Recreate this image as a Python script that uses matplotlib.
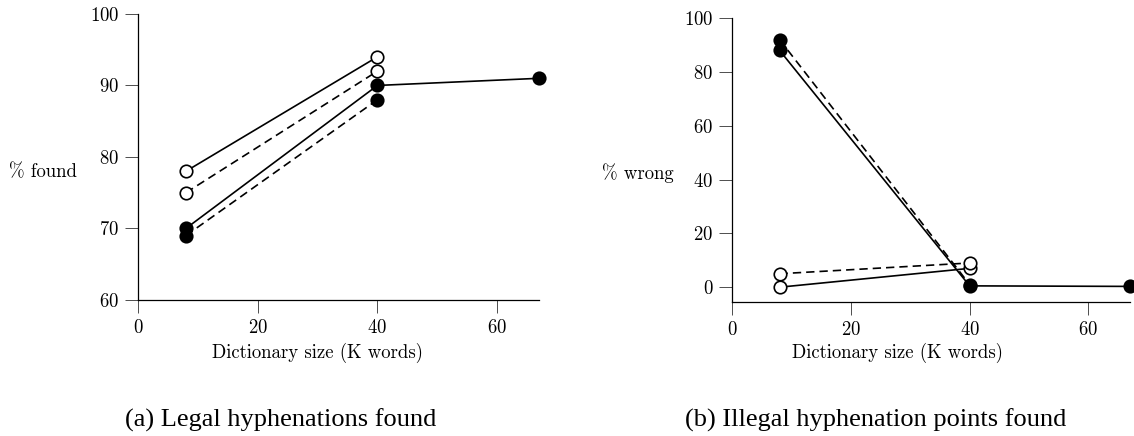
import matplotlib.pyplot as plt

# --- data ---
dict_size = [8, 40, 67]

# (a) legal hyphenations found, %
found_open_solid = [78, 94]
found_open_dash = [75, 92]
found_fill_solid = [70, 90, 91]
found_fill_dash = [69, 88]

# (b) illegal hyphenation points found, %
wrong_fill_solid = [88, 0.5, 0.3]
wrong_fill_dash = [92, 1.0]
wrong_open_solid = [0, 7]
wrong_open_dash = [5, 9]

x_ticks = [0, 20, 40, 60]
ticks_a = [60, 70, 80, 90, 100]
ticks_b = [0, 20, 40, 60, 80, 100]

plt.rcParams['font.family'] = ['cmr10', 'DejaVu Serif']
plt.rcParams['mathtext.fontset'] = 'cm'
plt.rcParams['axes.formatter.use_mathtext'] = True

fig = plt.figure(figsize=(11.34, 4.36), dpi=100)
ax1 = fig.add_axes([0.1217, 0.312, 0.3536, 0.656])
ax2 = fig.add_axes([0.6455, 0.3073, 0.351, 0.6514])

ms = 9
lw = 1.2
fs = 13.5


def series(ax, x, y, filled, dashed):
    ax.plot(x, y, color='black', lw=lw, ls='--' if dashed else '-',
            dashes=(5, 3) if dashed else (None, None),
            marker='o', ms=ms, mfc='black' if filled else 'white',
            mec='black', mew=1.2, clip_on=False, zorder=3)


series(ax1, dict_size[:2], found_open_solid, False, False)
series(ax1, dict_size[:2], found_open_dash, False, True)
series(ax1, dict_size, found_fill_solid, True, False)
series(ax1, dict_size[:2], found_fill_dash, True, True)

series(ax2, dict_size, wrong_fill_solid, True, False)
series(ax2, dict_size[:2], wrong_fill_dash, True, True)
series(ax2, dict_size[:2], wrong_open_solid, False, False)
series(ax2, dict_size[:2], wrong_open_dash, False, True)

ax1.set_xlim(0, 67)
ax1.set_ylim(60, 100)
ax1.set_yticks(ticks_a)
ax2.set_xlim(0, 67)
ax2.set_ylim(-5.5, 100)
ax2.set_yticks(ticks_b)

for ax in (ax1, ax2):
    ax.set_xticks(x_ticks)
    ax.spines['top'].set_visible(False)
    ax.spines['right'].set_visible(False)
    for s in ('left', 'bottom'):
        ax.spines[s].set_linewidth(0.9)
    ax.tick_params(direction='out', length=9.5, width=0.7, color='0.3',
                   labelsize=fs)
    ax.tick_params(axis='x', pad=4.5)
    ax.tick_params(axis='y', pad=4)

# axis labels placed like the reference (offset from axes centre)
fig.text(318 / 1134, 1 - 353 / 436, 'Dictionary size (K words)', fontsize=fs,
         ha='center', va='center')
fig.text(898 / 1134, 1 - 353 / 436, 'Dictionary size (K words)', fontsize=fs,
         ha='center', va='center')
fig.text(9 / 1134, 1 - 172 / 436, '% found', fontsize=fs, va='center', ha='left')
fig.text(602 / 1134, 1 - 173 / 436, '% wrong', fontsize=fs, va='center', ha='left')

cap_font = ['Liberation Serif', 'DejaVu Serif']
fig.text(281 / 1134, 1 - 420 / 436, '(a) Legal hyphenations found', fontsize=19,
         ha='center', va='center', family=cap_font)
fig.text(876 / 1134, 1 - 420 / 436, '(b) Illegal hyphenation points found',
         fontsize=19, ha='center', va='center', family=cap_font)

fig.savefig('out.png', dpi=100)
